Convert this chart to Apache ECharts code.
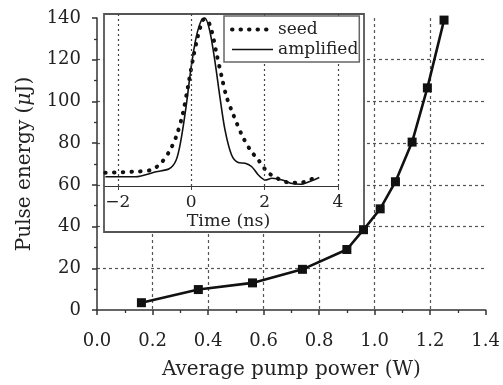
<!DOCTYPE html>
<html>
<head>
<meta charset="utf-8">
<script src="https://cdn.jsdelivr.net/npm/echarts@6/dist/echarts.min.js"></script>
<style>html,body{margin:0;padding:0;background:#fff;}#c{width:503px;height:385px;}</style>
</head>
<body>
<div id="c"></div>
<script>
// Main chart data
var pumpPower = [0.16, 0.365, 0.56, 0.74, 0.9, 0.96, 1.02, 1.075, 1.135, 1.19, 1.25];
var pulseEnergy = [3.5, 9.8, 13, 19.5, 29, 38.5, 48.5, 61.5, 80.5, 106.5, 139];

// Inset data (normalized intensity vs time in ns)
var seedTime = [-2.34, -1.61, -1.10, -0.83, -0.60, -0.41, -0.23, -0.09, 0.04, 0.18, 0.32, 0.41, 0.55, 0.69, 0.83, 0.96, 1.15, 1.38, 1.61, 1.83, 2.07, 2.34, 2.71, 2.98, 3.21, 3.49];
var seedValue = [0.077, 0.083, 0.093, 0.132, 0.2, 0.287, 0.42, 0.577, 0.73, 0.87, 0.965, 0.97, 0.907, 0.77, 0.635, 0.52, 0.413, 0.297, 0.209, 0.151, 0.083, 0.045, 0.019, 0.019, 0.035, 0.054];
var ampTime = [-2.34, -1.52, -0.96, -0.6, -0.41, -0.28, -0.14, 0, 0.14, 0.28, 0.37, 0.5, 0.64, 0.78, 0.92, 1.1, 1.28, 1.47, 1.65, 1.83, 2.02, 2.2, 2.48, 2.71, 2.98, 3.26, 3.49];
var ampValue = [0.054, 0.054, 0.083, 0.1, 0.151, 0.267, 0.461, 0.694, 0.87, 0.965, 0.977, 0.907, 0.733, 0.52, 0.326, 0.18, 0.136, 0.132, 0.112, 0.064, 0.035, 0.045, 0.035, 0.016, 0.01, 0.029, 0.05];
var insetTicks = [-2, 0, 2, 4];

function zip(a, b) { return a.map(function (v, i) { return [v, b[i]]; }); }

var FONT = 'DejaVu Serif';
var chart = echarts.init(document.getElementById('c'), null, {renderer: 'canvas'});
chart.setOption({
  animation: false,
  backgroundColor: '#fff',
  textStyle: {fontFamily: FONT, color: '#222'},
  grid: [
    {left: 97, right: 17, top: 18, bottom: 73},
    {left: 105, right: 165, top: 14, bottom: 199}
  ],
  graphic: [{
    type: 'rect', z: 1,
    shape: {x: 104, y: 14, width: 260, height: 218},
    style: {fill: '#fff', stroke: '#555', lineWidth: 1.8}
  }],
  xAxis: [{
    gridIndex: 0, type: 'value', min: 0, max: 1.4, interval: 0.2, z: 0,
    axisLine: {show: true, lineStyle: {color: '#333', width: 1.5}},
    axisTick: {show: true, length: 5, lineStyle: {color: '#333', width: 1.5}},
    minorTick: {show: true, splitNumber: 2, length: 3, lineStyle: {color: '#333', width: 1.3}},
    axisLabel: {fontFamily: FONT, fontSize: 18, color: '#222', margin: 22,
      formatter: function (v) { return v.toFixed(1); }},
    splitLine: {show: true, showMinLine: false, showMaxLine: false,
      lineStyle: {color: '#555', type: [3, 3], width: 1.2}},
    name: 'Average pump power (W)', nameLocation: 'middle', nameGap: 50,
    nameTextStyle: {fontFamily: FONT, fontSize: 20, color: '#222'}
  }, {
    gridIndex: 1, type: 'value', min: -2.35, max: 4, z: 2,
    axisLine: {show: true, onZero: false, lineStyle: {color: '#333', width: 1.2}},
    axisTick: {show: false},
    axisLabel: {fontFamily: FONT, fontSize: 17, color: '#222', margin: 8,
      customValues: insetTicks,
      formatter: function (v) { return v < 0 ? '\u2212' + Math.abs(v) : String(v); }},
    splitLine: {show: false},
    name: 'Time (ns)', nameLocation: 'middle', nameGap: 26,
    nameTextStyle: {fontFamily: FONT, fontSize: 17.5, color: '#222', padding: [0, 0, 0, 14]}
  }, {
    gridIndex: 1, type: 'value', min: -2.35, max: 4, position: 'top', z: 2,
    axisLine: {show: false},
    axisTick: {show: true, inside: true, length: 4, customValues: insetTicks, lineStyle: {color: '#444'}},
    axisLabel: {show: false},
    splitLine: {show: false}
  }],
  yAxis: [{
    gridIndex: 0, type: 'value', min: 0, max: 140, interval: 20, z: 0,
    axisLine: {show: true, lineStyle: {color: '#333', width: 1.5}},
    axisTick: {show: true, length: 5, lineStyle: {color: '#333', width: 1.5}},
    minorTick: {show: true, splitNumber: 2, length: 3, lineStyle: {color: '#333', width: 1.3}},
    axisLabel: {fontFamily: FONT, fontSize: 18, color: '#222', margin: 16},
    splitLine: {show: true, showMinLine: false, showMaxLine: false,
      lineStyle: {color: '#555', type: [3, 3], width: 1.2}},
    name: 'Pulse energy ({i|\u03bc}J)', nameLocation: 'middle', nameGap: 62,
    nameTextStyle: {fontFamily: FONT, fontSize: 20, color: '#222',
      rich: {i: {fontFamily: FONT, fontSize: 20, fontStyle: 'italic', color: '#222'}}}
  }, {
    gridIndex: 1, type: 'value', min: 0, max: 1, z: 2,
    axisLine: {show: false}, axisTick: {show: false}, axisLabel: {show: false},
    splitLine: {show: false}
  }],
  legend: {
    left: 224, top: 16, orient: 'vertical', z: 6,
    backgroundColor: '#fff', borderColor: '#666', borderWidth: 1.5,
    padding: [4, 1, 3, 6], itemGap: 1, itemWidth: 41, itemHeight: 19,
    textStyle: {fontFamily: FONT, fontSize: 17, color: '#222', lineHeight: 19},
    itemStyle: {opacity: 0},
    data: [
      {name: 'seed', itemStyle: {opacity: 0},
        lineStyle: {width: 4, type: [0.5, 8], cap: 'round', color: '#111'}},
      {name: 'amplified', itemStyle: {opacity: 0},
        lineStyle: {width: 1.6, type: 'solid', color: '#111'}}
    ]
  },
  series: [{
    name: 'main', type: 'line', xAxisIndex: 0, yAxisIndex: 0, z: 8,
    data: zip(pumpPower, pulseEnergy),
    symbol: 'rect', symbolSize: 9,
    itemStyle: {color: '#111'},
    lineStyle: {color: '#111', width: 2.6}
  }, {
    name: 'seed', type: 'line', xAxisIndex: 1, yAxisIndex: 1, z: 4,
    data: zip(seedTime, seedValue), smooth: 0.3, showSymbol: false, symbol: 'none',
    itemStyle: {color: '#111'},
    lineStyle: {color: '#111', width: 4, type: [0.5, 8.2], cap: 'round'},
    markLine: {
      silent: true, symbol: 'none', label: {show: false},
      lineStyle: {color: '#444', type: [2, 3], width: 1.2},
      data: insetTicks.map(function (t) { return {xAxis: t}; })
    }
  }, {
    name: 'amplified', type: 'line', xAxisIndex: 1, yAxisIndex: 1, z: 4,
    data: zip(ampTime, ampValue), smooth: 0.3, showSymbol: false, symbol: 'none',
    itemStyle: {color: '#111'},
    lineStyle: {color: '#111', width: 1.6}
  }]
});
</script>
</body>
</html>
